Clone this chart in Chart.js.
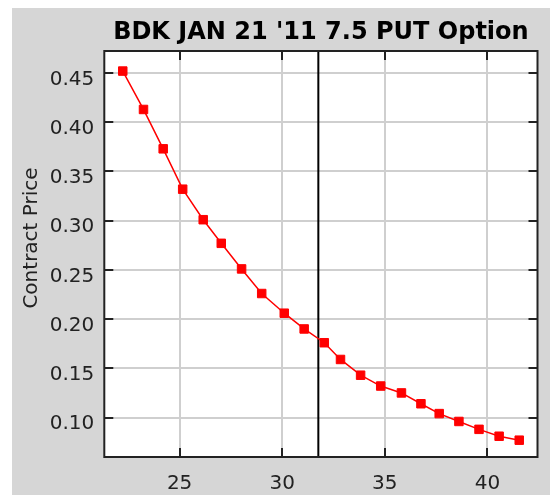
<!DOCTYPE html>
<html>
<head>
<meta charset="utf-8">
<script src="https://cdn.jsdelivr.net/npm/chart.js@4"></script>
<style>
  body { margin: 0; background: #fff; }
  canvas { display: block; }
</style>
</head>
<body>
<canvas id="grafico" width="550" height="495"></canvas>
<script>
// strike prices (x) and contract prices (y)
const strikes = [22.23, 23.24, 24.2, 25.15, 26.15, 27.03, 28.02, 29.0, 30.1, 31.07, 32.05,
                 32.84, 33.82, 34.8, 35.81, 36.76, 37.65, 38.61, 39.59, 40.57, 41.55];
const prices = [0.452, 0.413, 0.373, 0.332, 0.301, 0.277, 0.251, 0.226, 0.206, 0.190, 0.176,
                0.159, 0.143, 0.132, 0.125, 0.114, 0.104, 0.096, 0.088, 0.081, 0.077];
const xTicks = [25, 30, 35, 40];
const yTicks = [0.10, 0.15, 0.20, 0.25, 0.30, 0.35, 0.40, 0.45];
const stockPrice = 31.76; // vertical marker line
const titulo = "BDK JAN 21 '11 7.5 PUT Option";
const rotuloY = 'Contract Price';

const fonte = 'DejaVu Sans';
const cinza = '#d6d6d6';

const pontos = strikes.map((s, i) => ({x: s, y: prices[i]}));

// background panel, marker line, frame with inner ticks, y title
const moldura = {
  id: 'moldura',
  beforeDraw(chart) {
    const ctx = chart.ctx, a = chart.chartArea;
    ctx.save();
    ctx.fillStyle = '#fff';
    ctx.fillRect(0, 0, chart.width, chart.height);
    ctx.fillStyle = cinza;
    ctx.fillRect(12, 8, chart.width - 12, chart.height - 8);
    ctx.fillStyle = '#fff';
    ctx.fillRect(a.left, a.top, a.right - a.left, a.bottom - a.top);
    ctx.restore();
  },
  beforeDatasetsDraw(chart) {
    const ctx = chart.ctx, a = chart.chartArea;
    const px = chart.scales.x.getPixelForValue(stockPrice);
    ctx.save();
    ctx.strokeStyle = '#000';
    ctx.lineWidth = 2;
    ctx.beginPath();
    ctx.moveTo(px, a.top);
    ctx.lineTo(px, a.bottom);
    ctx.stroke();
    ctx.restore();
  },
  afterDraw(chart) {
    const ctx = chart.ctx, a = chart.chartArea;
    const sx = chart.scales.x, sy = chart.scales.y;
    const t = 9;
    ctx.save();
    ctx.strokeStyle = '#222';
    ctx.lineWidth = 2;
    ctx.strokeRect(a.left, a.top, a.right - a.left, a.bottom - a.top);
    ctx.beginPath();
    xTicks.forEach(v => {
      const p = Math.round(sx.getPixelForValue(v));
      ctx.moveTo(p, a.bottom); ctx.lineTo(p, a.bottom - t);
      ctx.moveTo(p, a.top); ctx.lineTo(p, a.top + t);
    });
    yTicks.forEach(v => {
      const p = Math.round(sy.getPixelForValue(v));
      ctx.moveTo(a.left, p); ctx.lineTo(a.left + t, p);
      ctx.moveTo(a.right, p); ctx.lineTo(a.right - t, p);
    });
    ctx.stroke();
    // y axis title
    ctx.translate(32, (a.top + a.bottom) / 2 - 16);
    ctx.rotate(-Math.PI / 2);
    ctx.fillStyle = '#222';
    ctx.font = '20px "' + fonte + '"';
    ctx.textAlign = 'center';
    ctx.textBaseline = 'middle';
    ctx.fillText(rotuloY, 0, 0);
    ctx.restore();
  }
};

var ctx = document.getElementById('grafico').getContext('2d');
var grafico = new Chart(ctx, {
  type: 'line',
  data: {
    datasets: [{
      data: pontos,
      borderColor: '#ff0000',
      backgroundColor: '#ff0000',
      borderWidth: 1.5,
      pointStyle: 'rect',
      pointRadius: 6,
      pointBorderWidth: 1,
      tension: 0
    }]
  },
  options: {
    responsive: false,
    animation: false,
    devicePixelRatio: 1,
    layout: { padding: { left: 12, top: 8, right: 12.5, bottom: 0 } },
    plugins: {
      legend: { display: false },
      tooltip: { enabled: false },
      title: {
        display: true,
        text: titulo,
        fullSize: false,
        color: '#000',
        font: { family: fonte, size: 24, weight: 'bold' },
        padding: { top: 10.6, bottom: 3.6 }
      }
    },
    scales: {
      x: {
        type: 'linear',
        min: 21.33,
        max: 42.44,
        afterBuildTicks: s => { s.ticks = xTicks.map(v => ({value: v})); },
        afterFit: s => { s.height = 38; },
        grid: { color: '#cfcfcf', lineWidth: 2, drawTicks: false },
        border: { display: false },
        ticks: { color: '#222', padding: 15, font: { family: fonte, size: 20 } }
      },
      y: {
        min: 0.0599,
        max: 0.4724,
        afterBuildTicks: s => { s.ticks = yTicks.map(v => ({value: v})); },
        afterFit: s => { s.width = 92.3; },
        grid: { color: '#cfcfcf', lineWidth: 2, drawTicks: false },
        border: { display: false },
        ticks: {
          color: '#222',
          padding: 10,
          labelOffset: 6.5,
          font: { family: fonte, size: 20 },
          callback: v => v.toFixed(2)
        }
      }
    }
  },
  plugins: [moldura]
});
</script>
</body>
</html>
